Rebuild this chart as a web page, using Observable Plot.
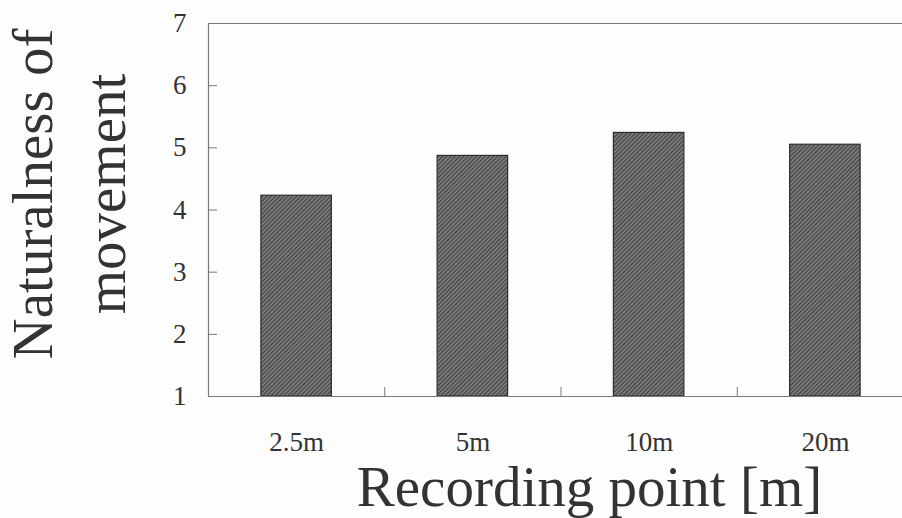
<!DOCTYPE html>
<html>
<head>
<meta charset="utf-8">
<script src="https://cdn.jsdelivr.net/npm/d3@7"></script>
<script src="https://cdn.jsdelivr.net/npm/@observablehq/plot@0.6"></script>
<style>
  html, body { margin: 0; padding: 0; background: #fdfdfd; }
  #chart svg { display: block; overflow: visible; }
</style>
</head>
<body>
<div id="chart"></div>
<script>
// Data
const categories = ["2.5m", "5m", "10m", "20m"];
const values = [4.23, 4.87, 5.24, 5.05];
const yTicks = [1, 2, 3, 4, 5, 6, 7];
const yLabel = "Naturalness of\nmovement";
const xLabel = "Recording point [m]";

const data = categories.map((c, i) => ({cat: c, i, value: values[i]}));
const idx = categories.map((_, i) => i);
const separators = categories.slice(1).map((_, i) => i + 0.5);

const ink = "#333";
const axisGray = "#7a7a7a";
const half = 0.2;

const svg = Plot.plot({
  width: 902,
  height: 518,
  marginLeft: 208,
  marginRight: 0,
  marginTop: 23,
  marginBottom: 122,
  style: {fontFamily: "'Liberation Serif', 'Times New Roman', serif", color: ink, background: "transparent"},
  x: {type: "linear", domain: [-0.5, categories.length - 0.5], range: [208, 913]},
  y: {domain: [1, 7]},
  marks: [
    Plot.rectY(data, {
      x1: d => d.i - half, x2: d => d.i + half, y1: 1, y2: "value",
      fill: "url(#hatch)", stroke: "#2e2e2e", strokeWidth: 1.2
    }),
    Plot.ruleY([7], {stroke: axisGray, strokeWidth: 1.2}),
    Plot.ruleY([1], {stroke: axisGray, strokeWidth: 1.2}),
    Plot.ruleX([-0.5], {stroke: axisGray, strokeWidth: 1.2}),
    Plot.axisY(yTicks, {
      tickSize: -9, tickPadding: 31, stroke: axisGray, fontSize: 27, fill: ink,
      label: null, tickFormat: d => String(d)
    }),
    Plot.axisX(idx, {
      tickSize: 0, tickPadding: 35, fontSize: 27, fill: ink,
      label: null, tickFormat: i => categories[i]
    }),
    Plot.axisX(separators, {
      tickSize: -9, stroke: axisGray, label: null, tickFormat: () => ""
    }),
    Plot.text([yLabel], {
      frameAnchor: "left", rotate: -90, dx: -143, dy: -16,
      fontSize: 57, lineHeight: 1.28, fill: ink, textAnchor: "middle"
    }),
    Plot.text([xLabel], {
      frameAnchor: "bottom", dx: 34, dy: 91,
      fontSize: 57, fill: ink, textAnchor: "middle", lineAnchor: "middle"
    })
  ]
});

const defs = d3.select(svg).insert("defs", ":first-child");
const pat = defs.append("pattern")
  .attr("id", "hatch")
  .attr("patternUnits", "userSpaceOnUse")
  .attr("width", 3)
  .attr("height", 3)
  .attr("patternTransform", "rotate(45)");
pat.append("rect").attr("width", 3).attr("height", 3).attr("fill", "#7a7a7a");
pat.append("line").attr("x1", 0).attr("y1", 0).attr("x2", 0).attr("y2", 3)
  .attr("stroke", "#333").attr("stroke-width", 1.7);

document.getElementById("chart").appendChild(svg);
</script>
</body>
</html>
